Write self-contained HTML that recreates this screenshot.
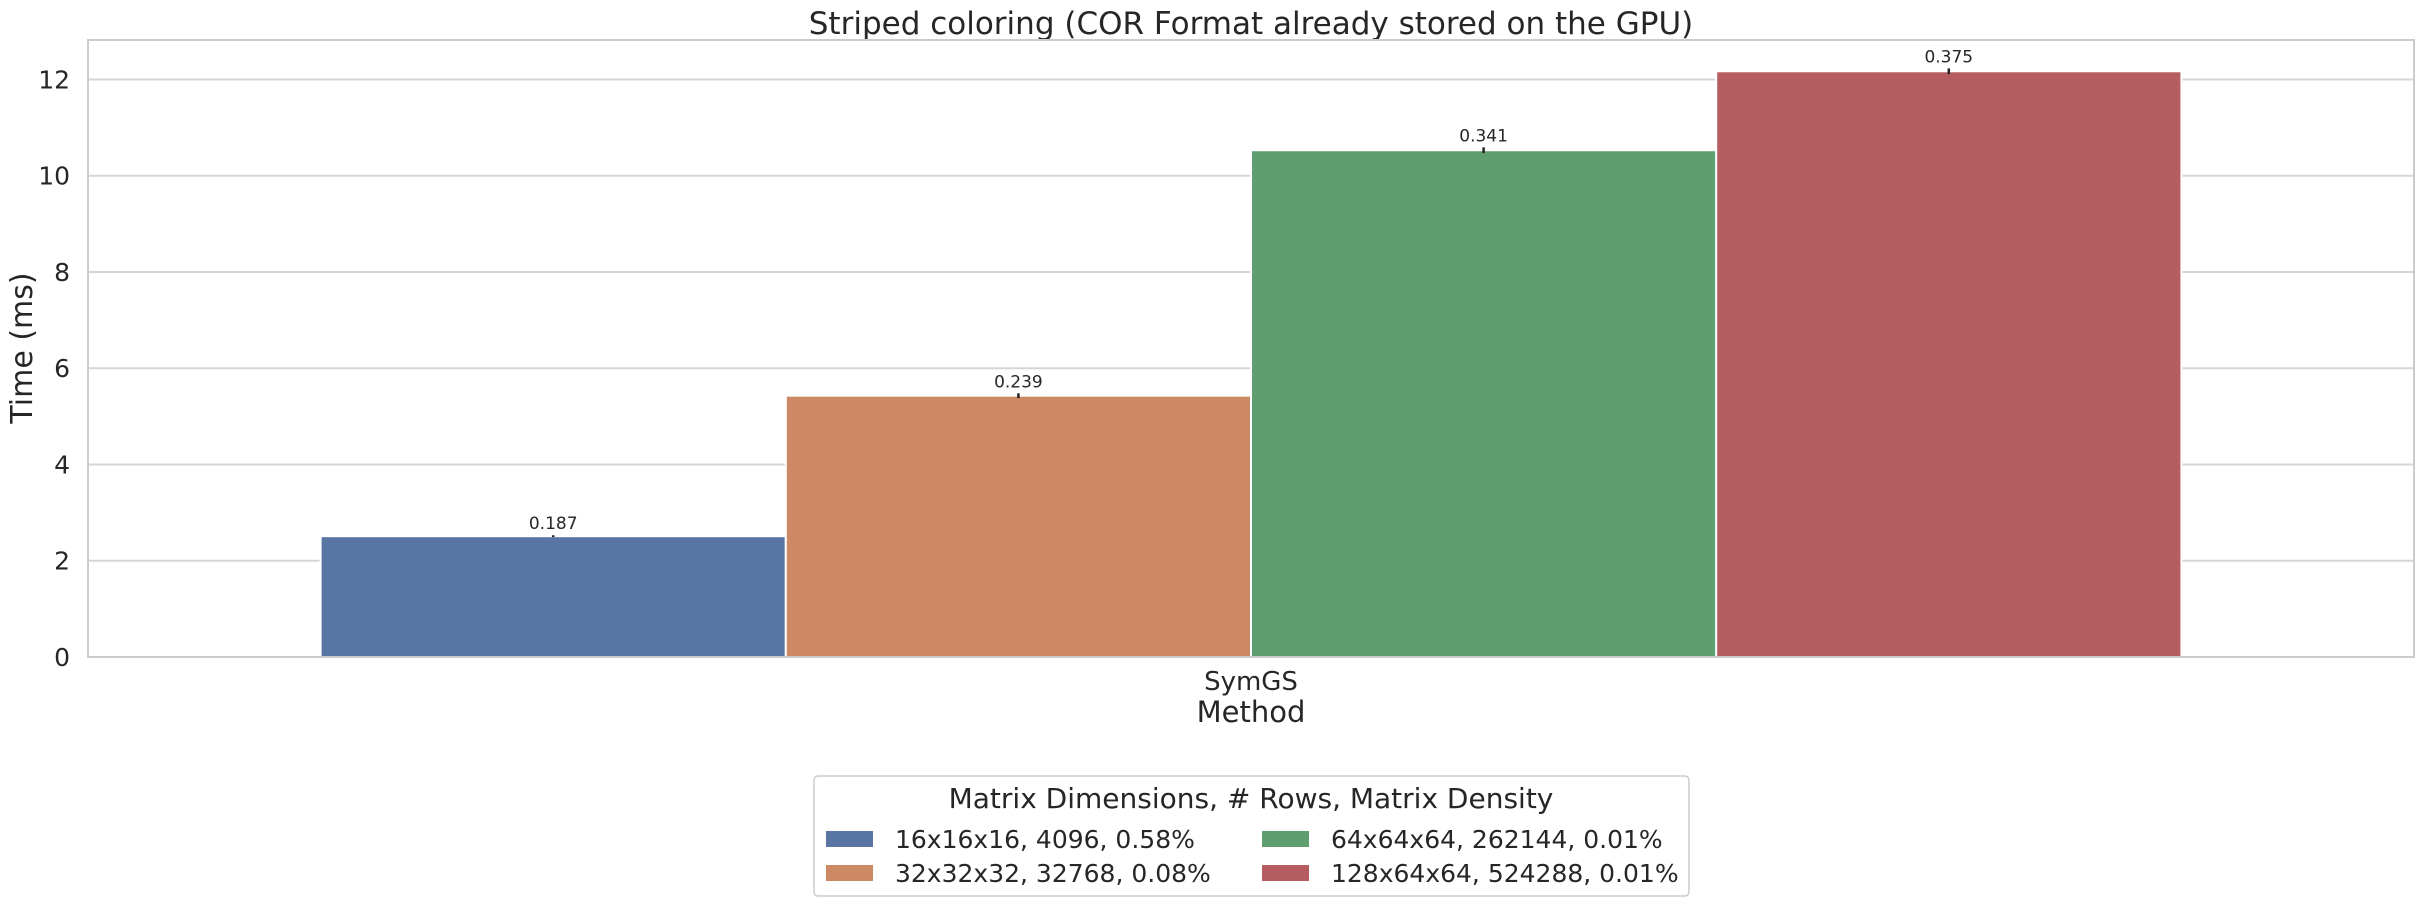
<!DOCTYPE html>
<html><head><meta charset="utf-8"><style>
html,body{margin:0;padding:0;background:#fff;}
svg{display:block;font-family:"DejaVu Sans","Liberation Sans",sans-serif;}
</style></head><body>
<svg id="chart" width="2423" height="907" viewBox="0 0 2423 907" xmlns="http://www.w3.org/2000/svg">
<text x="1251" y="34" font-size="31" text-anchor="middle" fill="#262626">Striped coloring (COR Format already stored on the GPU)</text>
<g id="grid"></g>
<g id="bars"></g>
<rect x="88" y="40" width="2326" height="617" fill="none" stroke="#cccccc" stroke-width="2"/>
<g id="yticks"></g>
<text transform="translate(32,348) rotate(-90)" font-size="30" text-anchor="middle" fill="#262626">Time (ms)</text>
<text x="1251" y="690" font-size="26" text-anchor="middle" fill="#262626">SymGS</text>
<text x="1251" y="722" font-size="29" text-anchor="middle" fill="#262626">Method</text>
<g>
<rect x="814" y="776" width="875" height="120" rx="4" fill="#fff" stroke="#cccccc" stroke-width="1.5"/>
<text x="1251" y="808" font-size="28" text-anchor="middle" fill="#262626">Matrix Dimensions, # Rows, Matrix Density</text>
<g id="legend-items"></g>
</g>
</svg>
<script>
const categories = ["SymGS"];
const seriesNames = ["16x16x16, 4096, 0.58%","32x32x32, 32768, 0.08%","64x64x64, 262144, 0.01%","128x64x64, 524288, 0.01%"];
const seriesValues = [2.51, 5.43, 10.53, 12.17];
const seriesErrors = [0.02, 0.05, 0.06, 0.06];
const valueLabels = ["0.187","0.239","0.341","0.375"];
const yTicks = [0,2,4,6,8,10,12];
const colors = ["#5875a4","#cc8963","#5f9e6e","#b55d60"];

const NS="http://www.w3.org/2000/svg";
const X0=88, X1=2414, Y0=657, YTOP=40, YMAX=12.82;
function y(v){return Y0-(v/YMAX)*(Y0-YTOP);}
const band=(X1-X0)/categories.length;
function xCat(i){return X0+band*i+band/2;}
const groupW=band*0.8, barW=groupW/seriesValues.length;
function mk(tag,attrs,parent){const e=document.createElementNS(NS,tag);for(const k in attrs)e.setAttribute(k,attrs[k]);parent.appendChild(e);return e;}

const grid=document.getElementById('grid'), yt=document.getElementById('yticks');
yTicks.forEach(t=>{
  const l=mk('line',{x1:X0,x2:X1,y1:y(t),y2:y(t),stroke:'#d5d5d5','stroke-width':2},grid);
  
  
  const tx=mk('text',{x:70,y:y(t)+9,'font-size':25,'text-anchor':'end',fill:'#262626'},yt);
  tx.textContent=t;
  
  
});

const bars=document.getElementById('bars');
categories.forEach((c,ci)=>{
  seriesValues.forEach((v,si)=>{
    const x=xCat(ci)-groupW/2+si*barW;
    const r=mk('rect',{x:x,y:y(v),width:barW,height:Y0-y(v),fill:colors[si],stroke:'#fff','stroke-width':2},bars);
    
    
    const cx=x+barW/2, e=seriesErrors[si];
    const eb=mk('line',{x1:cx,x2:cx,y1:y(v+e),y2:y(v-e),stroke:'#262626','stroke-width':2.5},bars);
    
    
    const lb=mk('text',{x:cx,y:y(v+e)-6,'font-size':17,'text-anchor':'middle',fill:'#262626'},bars);
    lb.textContent=valueLabels[si];
    
    
  });
});

const li=document.getElementById('legend-items');
seriesNames.forEach((n,i)=>{
  const col=Math.floor(i/2), row=i%2;
  const px=[826,1262][col], tx=[895,1331][col], ry=[839,873][row];
  const p=mk('rect',{x:px,y:ry-8,width:47,height:16,fill:colors[i]},li);
  
  
  const t=mk('text',{x:tx,y:ry+9,'font-size':25,fill:'#262626'},li);
  t.textContent=n;
  
  
});
</script>
</body></html>
